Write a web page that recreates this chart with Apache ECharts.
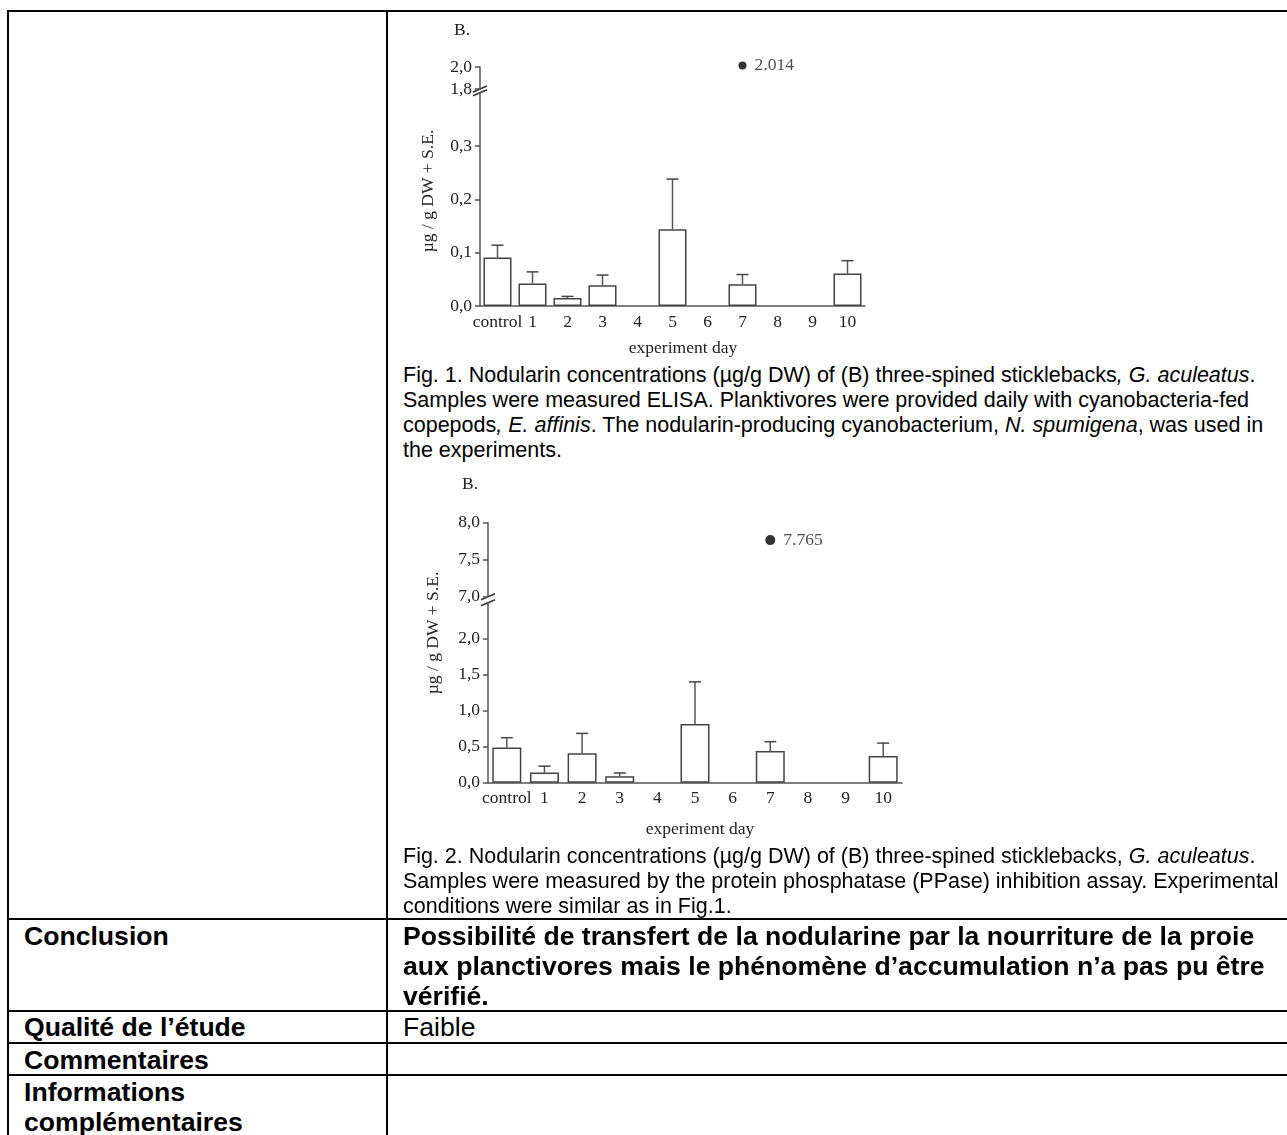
<!DOCTYPE html>
<html>
<head>
<meta charset="utf-8">
<title>Nodularine - planctivores</title>
<script src="https://cdn.jsdelivr.net/npm/echarts@6/dist/echarts.min.js"></script>
<style>
    body { margin: 0; background: #fff; }
    #page { position: relative; width: 1287px; height: 1135px; overflow: hidden; font-family: "Liberation Sans", Arial, sans-serif; color: #000; }
    .hl { position: absolute; left: 7px; width: 1290px; height: 2px; background: #000; }
    .vl { position: absolute; top: 10px; width: 2px; height: 1130px; background: #000; }
    .txt { position: absolute; white-space: nowrap; }
    .cap { left: 403px; font-size: 21.5px; line-height: 25px; }
    .big { font-size: 26.6px; line-height: 30px; }
    .b { font-weight: bold; }
    .chart { position: absolute; left: 388px; width: 600px; }
</style>
</head>
<body>
<div id="page">
    <div class="hl" style="top:10px"></div>
    <div class="hl" style="top:918px"></div>
    <div class="hl" style="top:1010px"></div>
    <div class="hl" style="top:1042px"></div>
    <div class="hl" style="top:1074px"></div>
    <div class="vl" style="left:7px"></div>
    <div class="vl" style="left:386px"></div>

    <div id="chartElisa" class="chart" style="top:12px;height:350px"></div>
    <div class="txt cap" style="top:363px">
        Fig. 1. Nodularin concentrations (µg/g DW) of (B) three-spined sticklebacks<i>,</i> <i>G. aculeatus</i>.<br>
        Samples were measured ELISA. Planktivores were provided daily with cyanobacteria-fed<br>
        copepods<i>, E. affinis</i>. The nodularin-producing cyanobacterium, <i>N. spumigena</i>, was used in<br>
        the experiments.
    </div>

    <div id="chartPpase" class="chart" style="top:465px;height:380px"></div>
    <div class="txt cap" style="top:844px">
        Fig. 2. Nodularin concentrations (µg/g DW) of (B) three-spined sticklebacks, <i>G. aculeatus</i>.<br>
        Samples were measured by the protein phosphatase (PPase) inhibition assay. Experimental<br>
        conditions were similar as in Fig.1.
    </div>

    <div class="txt big b" style="left:24px;top:921px">Conclusion</div>
    <div class="txt big b" style="left:403px;top:921px">
        Possibilité de transfert de la nodularine par la nourriture de la proie<br>
        aux planctivores mais le phénomène d’accumulation n’a pas pu être<br>
        vérifié.
    </div>
    <div class="txt big b" style="left:24px;top:1012px">Qualité de l’étude</div>
    <div class="txt big" style="left:403px;top:1012px">Faible</div>
    <div class="txt big b" style="left:24px;top:1045px">Commentaires</div>
    <div class="txt big b" style="left:24px;top:1077px">Informations<br>complémentaires</div>
</div>

<script>
// days of the experiment
var days = ['control', '1', '2', '3', '4', '5', '6', '7', '8', '9', '10'];

// Fig. 1 - ELISA
var elisaMean = [0.091, 0.042, 0.015, 0.039, null, 0.144, null, 0.041, null, null, 0.061];
var elisaSE = [0.023, 0.022, 0.003, 0.019, null, 0.094, null, 0.018, null, null, 0.024];
var elisaOutlier = ['7', 2.014];
var elisaLowTicks = [0, 0.1, 0.2, 0.3];
var elisaHighTicks = [1.8, 2.0];

// Fig. 2 - PPase
var ppaseMean = [0.49, 0.14, 0.41, 0.09, null, 0.815, null, 0.44, null, null, 0.37];
var ppaseSE = [0.135, 0.09, 0.275, 0.045, null, 0.585, null, 0.13, null, null, 0.18];
var ppaseOutlier = ['7', 7.765];
var ppaseLowTicks = [0, 0.5, 1.0, 1.5, 2.0];
var ppaseHighTicks = [7.0, 7.5, 8.0];

var serif = 'Liberation Serif, Times New Roman, serif';
var fontPx = 17.5;
var axisGrey = '#555';

var commaLabel = function (v) {
    return v.toFixed(1).replace('.', ',');
};

var errorBar = function (params, api) {
    var mean = api.value(1);
    var top = mean + api.value(2);
    var p0 = api.coord([api.value(0), mean]);
    var p1 = api.coord([api.value(0), top]);
    return {
        type: 'group',
        children: [
            { type: 'line', shape: { x1: p0[0], y1: p0[1], x2: p1[0], y2: p1[1] }, style: { stroke: axisGrey, lineWidth: 1.5 } },
            { type: 'line', shape: { x1: p1[0] - 6, y1: p1[1], x2: p1[0] + 6, y2: p1[1] }, style: { stroke: '#444', lineWidth: 1.5 } }
        ]
    };
};

var drawChart = function (id, cfg) {
    var chart = echarts.init(document.getElementById(id), null, { renderer: 'canvas' });
    var errData = [];
    for (var i = 0; i < days.length; i++) {
        if (cfg.mean[i] != null) {
            errData.push([i, cfg.mean[i], cfg.se[i]]);
        }
    }
    var yAxisBase = function (gi, min, max, interval, ticks) {
        return {
            type: 'value', gridIndex: gi, min: min, max: max, interval: interval,
            splitLine: { show: false },
            axisLine: { show: true, lineStyle: { color: axisGrey, width: 1.5 } },
            axisTick: { show: true, length: 5, lineStyle: { color: axisGrey, width: 1.5 }, customValues: ticks },
            axisLabel: { margin: 8, color: '#222', fontFamily: serif, fontSize: fontPx, formatter: commaLabel, customValues: ticks }
        };
    };
    chart.setOption({
        animation: false,
        grid: [
            { left: cfg.left, top: cfg.highTop, width: cfg.width, height: cfg.highHeight },
            { left: cfg.left, top: cfg.lowTop, width: cfg.width, height: cfg.lowHeight }
        ],
        xAxis: [
            { type: 'category', gridIndex: 0, data: days, show: false },
            {
                type: 'category', gridIndex: 1, data: days,
                axisLine: { lineStyle: { color: axisGrey, width: 1.5 } },
                axisTick: { length: 4, lineStyle: { color: axisGrey, width: 1.5 } },
                axisLabel: { interval: 0, margin: 7, color: '#222', fontFamily: serif, fontSize: fontPx }
            }
        ],
        yAxis: [
            yAxisBase(0, cfg.highTicks[0], cfg.highTicks[cfg.highTicks.length - 1], cfg.interval, cfg.highTicks),
            yAxisBase(1, 0, cfg.lowMax, cfg.interval, cfg.lowTicks)
        ],
        series: [
            {
                type: 'bar', xAxisIndex: 1, yAxisIndex: 1, data: cfg.mean, barWidth: cfg.barWidth,
                itemStyle: { color: '#fff', borderColor: '#444', borderWidth: 1.5 }
            },
            {
                type: 'custom', xAxisIndex: 1, yAxisIndex: 1, data: errData, renderItem: errorBar, z: 3
            },
            {
                type: 'scatter', xAxisIndex: 0, yAxisIndex: 0, data: [cfg.outlier], clip: false,
                symbolSize: cfg.dot, itemStyle: { color: '#000' },
                label: {
                    show: true, position: 'right', distance: 8, color: '#222', fontFamily: serif, fontSize: fontPx,
                    formatter: function (p) { return p.value[1].toFixed(3); }
                }
            }
        ]
    });

    // break marks on the y axis, between the two grids
    var yHigh = chart.convertToPixel({ yAxisIndex: 0 }, cfg.highTicks[0]);
    var yLow = chart.convertToPixel({ yAxisIndex: 1 }, cfg.lowMax);
    var x = cfg.left;
    var brk = function (y) {
        return { type: 'line', shape: { x1: x - 7, y1: y + 3, x2: x + 7, y2: y - 3 }, style: { stroke: '#333', lineWidth: 1.5 } };
    };
    var font = fontPx + 'px ' + serif;
    chart.setOption({
        graphic: [
            { type: 'rect', shape: { x: x - 2, y: yHigh, width: 4, height: yLow - yHigh }, style: { fill: '#fff' } },
            brk(yHigh), brk(yLow),
            { type: 'text', x: cfg.bPos[0], y: cfg.bPos[1], style: { text: 'B.', font: font, fill: '#222', align: 'center', verticalAlign: 'middle' } },
            { type: 'text', x: cfg.yTitle[0], y: cfg.yTitle[1], rotation: Math.PI / 2, style: { text: 'µg / g DW + S.E.', font: font, fill: '#222', align: 'center', verticalAlign: 'middle' } },
            { type: 'text', x: cfg.xTitle[0], y: cfg.xTitle[1], style: { text: 'experiment day', font: font, fill: '#222', align: 'center', verticalAlign: 'middle' } }
        ]
    });
};

drawChart('chartElisa', {
    mean: elisaMean, se: elisaSE, outlier: elisaOutlier,
    lowTicks: elisaLowTicks, highTicks: elisaHighTicks, lowMax: 0.4, interval: 0.1,
    left: 92, width: 385, highTop: 55, highHeight: 22, lowTop: 80.7, lowHeight: 213.3,
    barWidth: 28, dot: 8,
    bPos: [74, 18], yTitle: [40, 179], xTitle: [295, 336]
});

drawChart('chartPpase', {
    mean: ppaseMean, se: ppaseSE, outlier: ppaseOutlier,
    lowTicks: ppaseLowTicks, highTicks: ppaseHighTicks, lowMax: 2.5, interval: 0.5,
    left: 100, width: 414, highTop: 57.7, highHeight: 74, lowTop: 137.7, lowHeight: 180,
    barWidth: 29, dot: 10,
    bPos: [82, 19], yTitle: [45, 168], xTitle: [312, 364]
});
</script>
</body>
</html>
